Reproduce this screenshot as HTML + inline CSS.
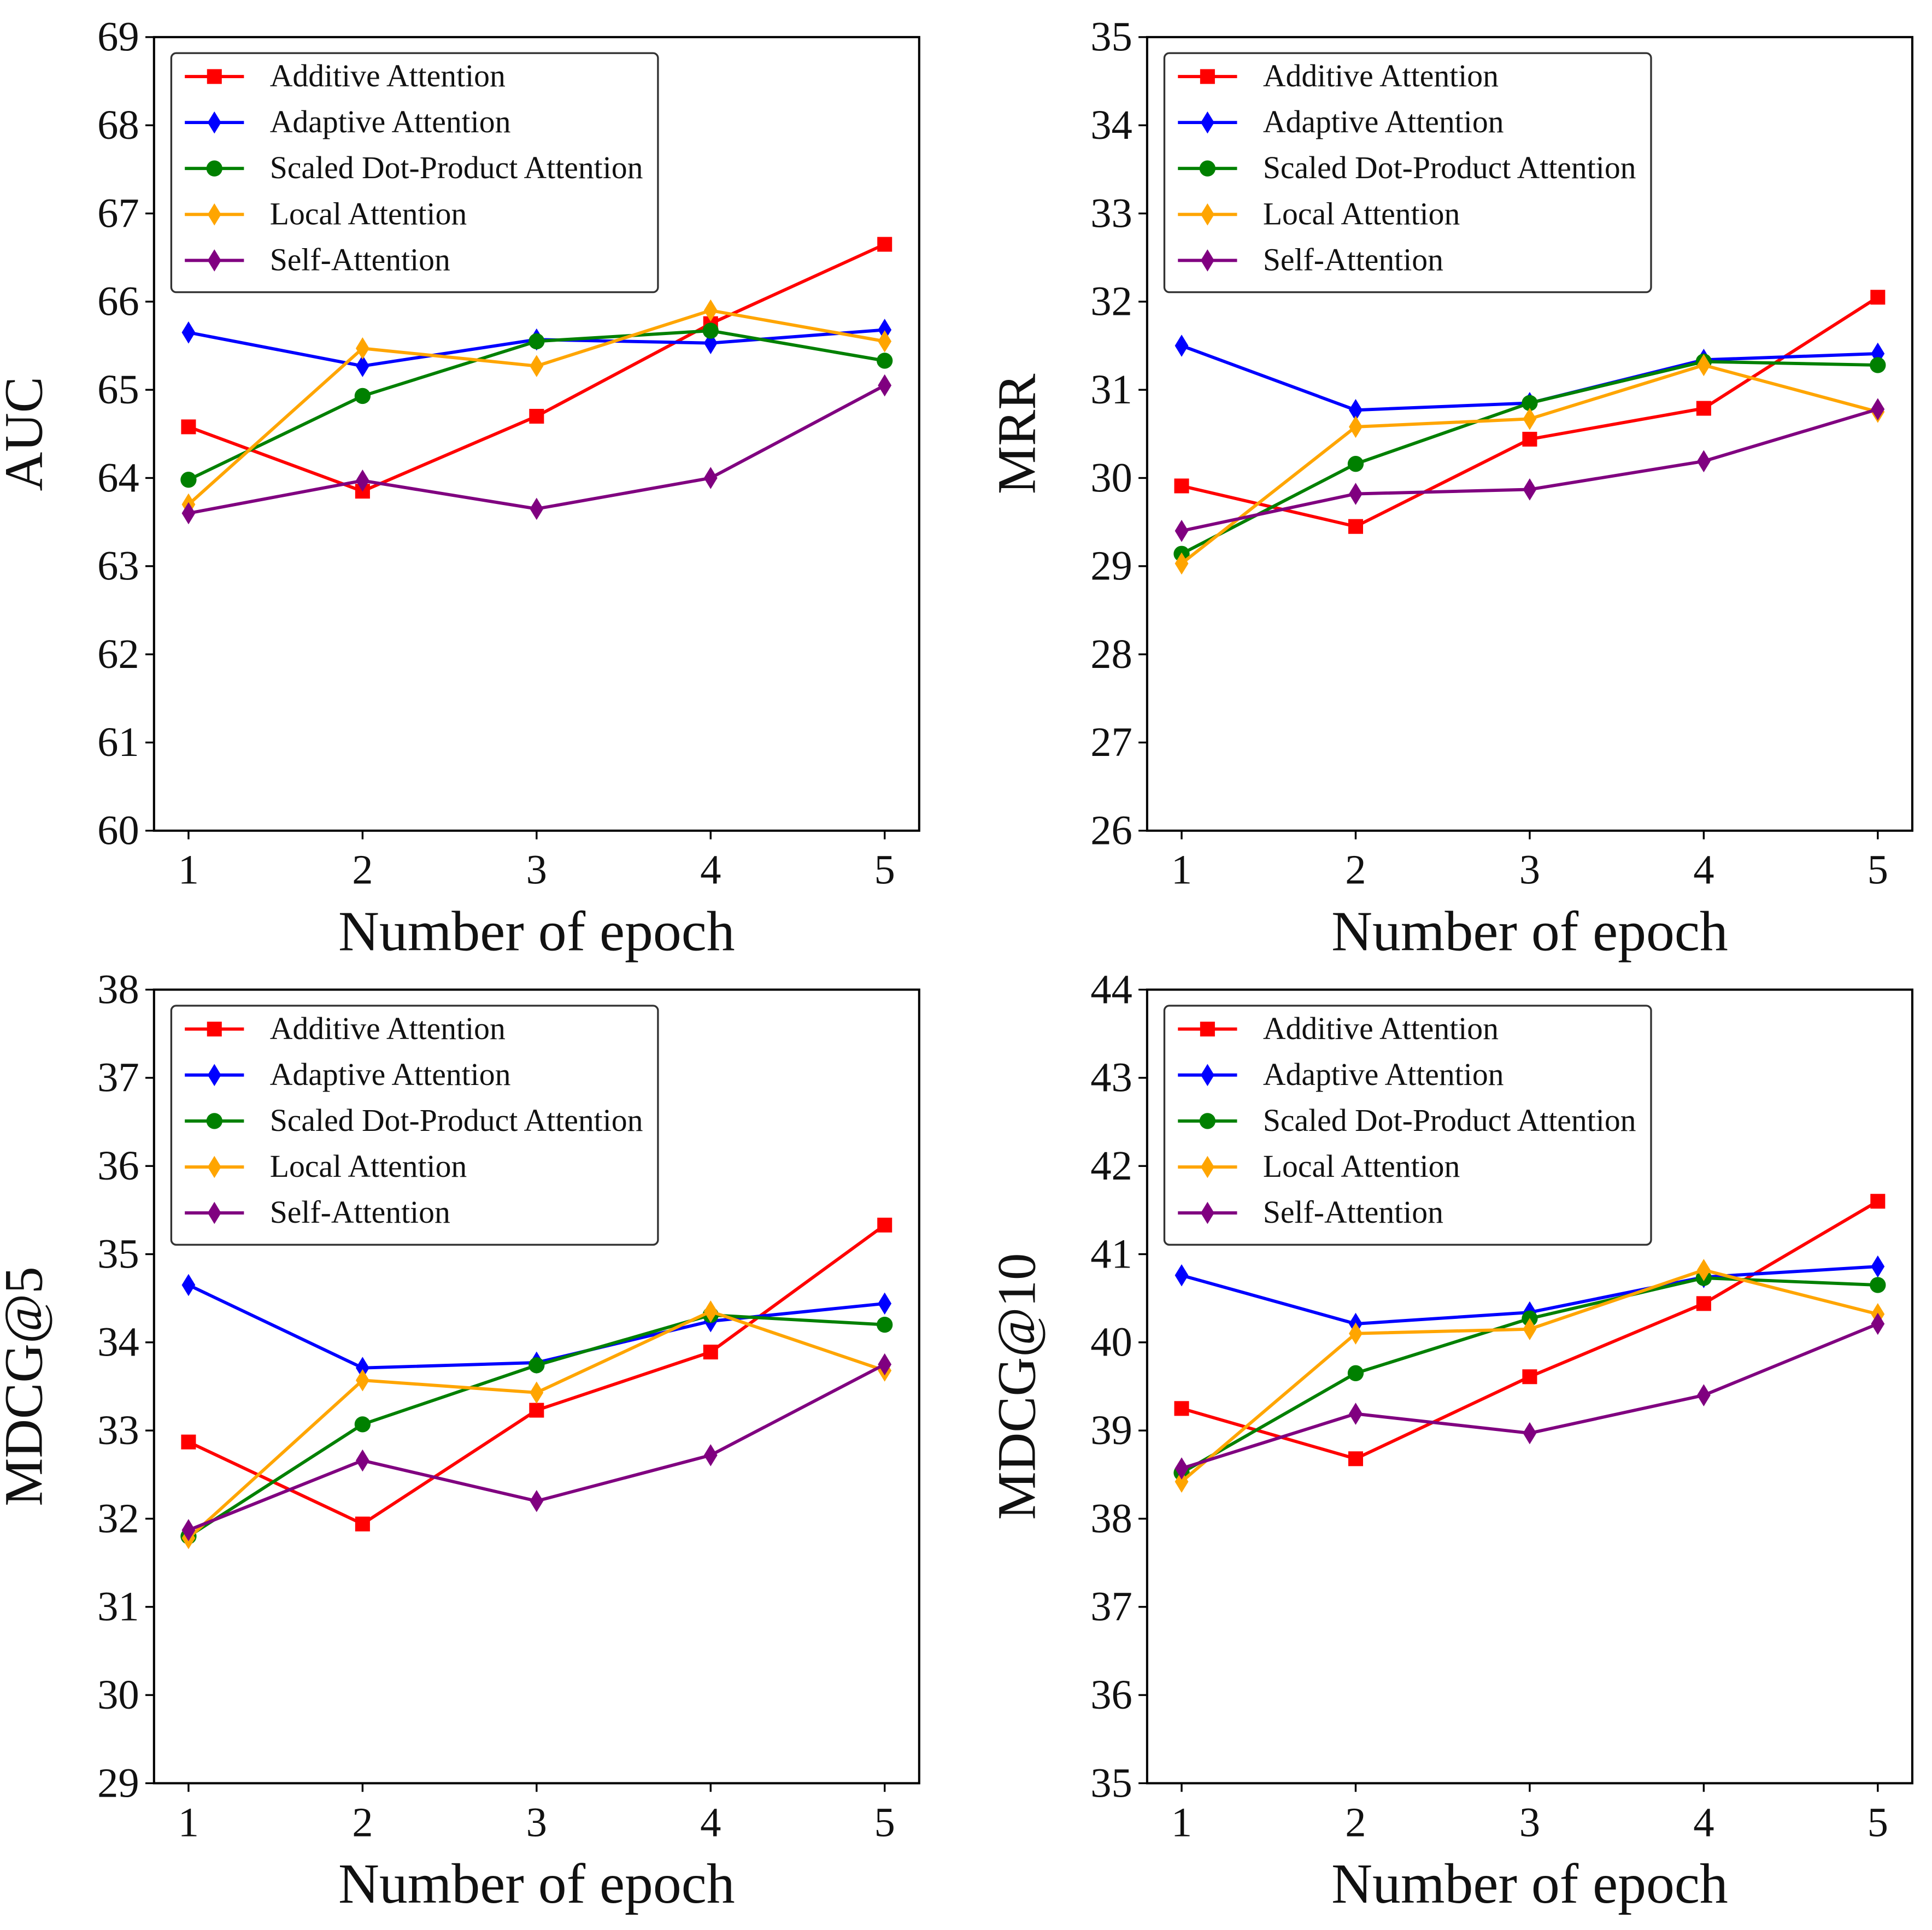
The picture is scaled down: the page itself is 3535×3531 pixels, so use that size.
<!DOCTYPE html>
<html><head><meta charset="utf-8"><style>
html,body{margin:0;padding:0;background:#fff;}
svg{display:block;}
text{font-family:"Liberation Serif",serif;fill:#111;}
</style></head><body>
<svg id="chart" width="3535" height="3531" viewBox="0 0 1568 1566" xmlns="http://www.w3.org/2000/svg"></svg>
<script>
const epochs=[1,2,3,4,5];
const seriesNames=["Additive Attention","Adaptive Attention","Scaled Dot-Product Attention","Local Attention","Self-Attention"];
const aucAdditive=[64.58,63.85,64.7,65.75,66.65];
const aucAdaptive=[65.65,65.27,65.57,65.53,65.68];
const aucScaled=[63.98,64.93,65.55,65.67,65.33];
const aucLocal=[63.7,65.47,65.27,65.9,65.55];
const aucSelf=[63.6,63.97,63.65,64.0,65.05];
const mrrAdditive=[29.91,29.45,30.44,30.79,32.05];
const mrrAdaptive=[31.5,30.77,30.85,31.34,31.41];
const mrrScaled=[29.14,30.16,30.85,31.32,31.28];
const mrrLocal=[29.03,30.58,30.67,31.28,30.75];
const mrrSelf=[29.4,29.82,29.87,30.19,30.78];
const m5Additive=[32.87,31.94,33.23,33.89,35.33];
const m5Adaptive=[34.65,33.71,33.77,34.24,34.44];
const m5Scaled=[31.8,33.07,33.74,34.31,34.2];
const m5Local=[31.78,33.57,33.43,34.35,33.68];
const m5Self=[31.87,32.66,32.2,32.72,33.75];
const m10Additive=[39.25,38.68,39.61,40.44,41.6];
const m10Adaptive=[40.76,40.21,40.34,40.74,40.86];
const m10Scaled=[38.52,39.65,40.27,40.73,40.65];
const m10Local=[38.42,40.1,40.15,40.82,40.32];
const m10Self=[38.57,39.19,38.97,39.4,40.21];
const colors=["#ff0000","#0000ff","#008000","#ffa500","#800080"];
const markers=["square","diamond","circle","diamond","diamond"];
const NS="http://www.w3.org/2000/svg";
const svg=document.getElementById('chart');
function mk(tag,attrs,parent){const e=document.createElementNS(NS,tag);for(const k in attrs)e.setAttribute(k,attrs[k]);(parent||svg).appendChild(e);return e;}
const panels=[
 {name:"auc",ylabel:"AUC",min:60,max:69,left:125,top:30,data:[aucAdditive,aucAdaptive,aucScaled,aucLocal,aucSelf]},
 {name:"mrr",ylabel:"MRR",min:26,max:35,left:931,top:30,data:[mrrAdditive,mrrAdaptive,mrrScaled,mrrLocal,mrrSelf]},
 {name:"mdcg5",ylabel:"MDCG@5",min:29,max:38,left:125,top:803,data:[m5Additive,m5Adaptive,m5Scaled,m5Local,m5Self]},
 {name:"mdcg10",ylabel:"MDCG@10",min:35,max:44,left:931,top:803,data:[m10Additive,m10Adaptive,m10Scaled,m10Local,m10Self]}
];
function marker(g,type,x,y,c){
 let e;
 if(type==="square")e=mk('rect',{x:x-6,y:y-6,width:12,height:12,fill:c},g);
 else if(type==="circle")e=mk('circle',{cx:x,cy:y,r:6.5,fill:c},g);
 else e=mk('polygon',{points:`${x},${y-9} ${x+5.5},${y} ${x},${y+9} ${x-5.5},${y}`,fill:c},g);
 return e;
}
panels.forEach(p=>{
 const W=621,H=644;
 const g=mk('g',{});
 
 
 const xs=v=>p.left+28+(v-1)*(W-56)/4;
 const ys=v=>p.top+H-(v-p.min)/(p.max-p.min)*H;
 for(let t=p.min;t<=p.max;t++){
  const y=ys(t);
  const tl=mk('line',{x1:p.left-7,x2:p.left,y1:y,y2:y,stroke:'#000','stroke-width':1.5},g);
  
  
  const tx=mk('text',{x:p.left-12,y:y+11,'text-anchor':'end','font-size':34},g);
  tx.textContent=t;
  
  
 }
 epochs.forEach(e=>{
  const x=xs(e);
  const tl=mk('line',{x1:x,x2:x,y1:p.top+H,y2:p.top+H+7,stroke:'#000','stroke-width':1.5},g);
  
  
  const tx=mk('text',{x:x,y:p.top+H+43,'text-anchor':'middle','font-size':34},g);
  tx.textContent=e;
  
  
 });
 const xl=mk('text',{x:p.left+W/2,y:p.top+H+97,'text-anchor':'middle','font-size':46},g);
 xl.textContent="Number of epoch";
 
 
 const yx=p.left-91,yy=p.top+H/2;
 const yl=mk('text',{x:yx,y:yy,'text-anchor':'middle','font-size':44,transform:`rotate(-90 ${yx} ${yy})`},g);
 yl.textContent=p.ylabel;
 
 
 p.data.forEach((vals,i)=>{
  const sg=mk('g',{},g);
  
  
  const pts=vals.map((v,j)=>xs(epochs[j])+','+ys(v)).join(' ');
  mk('polyline',{points:pts,fill:'none',stroke:colors[i],'stroke-width':2.6},sg);
  vals.forEach((v,j)=>{
   const m=marker(sg,markers[i],xs(epochs[j]),ys(v),colors[i]);
   
   
  });
 });
 const fr=mk('rect',{x:p.left,y:p.top,width:W,height:H,fill:'none',stroke:'#000','stroke-width':1.8},g);
 
 
 const lg=mk('g',{},g);
 
 
 mk('rect',{x:p.left+14,y:p.top+13,width:395,height:194,rx:4,fill:'#fff',stroke:'#333','stroke-width':1.5},lg);
 seriesNames.forEach((n,i)=>{
  const y=p.top+32+i*37.3;
  const le=mk('g',{},lg);
  
  
  mk('line',{x1:p.left+25,x2:p.left+73,y1:y,y2:y,stroke:colors[i],'stroke-width':2.6},le);
  marker(le,markers[i],p.left+49,y,colors[i]);
  const t=mk('text',{x:p.left+94,y:y+8,'font-size':25.6},le);
  t.textContent=n;
 });
});
</script>
</body></html>
